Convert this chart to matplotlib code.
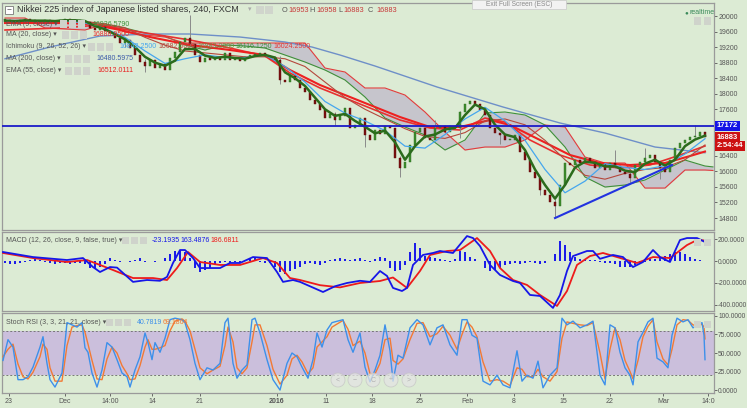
import numpy as np
import matplotlib
matplotlib.use("Agg")
import matplotlib.pyplot as plt
from matplotlib.patches import Rectangle, Ellipse
from matplotlib.transforms import blended_transform_factory

plt.rcParams["font.family"] = ["Liberation Sans", "DejaVu Sans"]

# ---- Nikkei 225 (FXCM, 240 min), sampled bars: closes ----
close = [19897, 19870, 19846, 19900, 19923, 19880, 19871, 19860, 19897, 19870,
         19846, 19890, 19923, 19900, 19871, 19880, 19846, 19691, 19640, 19717,
         19614, 19562, 19434, 19305, 19382, 19176, 18996, 18816, 18713, 18867,
         18661, 18764, 18610, 18919, 19073, 19331, 19434, 19279, 18996, 18816,
         18919, 18867, 18945, 18867, 19048, 18867, 18893, 18842, 18945, 18996,
         19022, 19048, 18970, 18945, 18867, 18353, 18301, 18456, 18353, 18147,
         18044, 17838, 17735, 17580, 17374, 17477, 17323, 17426, 17632, 17117,
         17194, 17374, 16937, 16808, 17066, 16963, 17169, 17117, 16345, 16088,
         16242, 16680, 17014, 17117, 16860, 16808, 17117, 17169, 17014, 17169,
         17117, 17529, 17735, 17812, 17735, 17580, 17452, 17117, 16988, 16937,
         16808, 16808, 16937, 16499, 16293, 15985, 15830, 15521, 15393, 15212,
         15109, 15650, 16216, 16165, 16293, 16216, 16345, 16242, 16088, 16190,
         16036, 16216, 16139, 15985, 15933, 15830, 16165, 16242, 16345, 16422,
         16242, 16088, 15985, 16293, 16602, 16731, 16808, 16885, 16911, 17014,
         16883]
wick_idx = [24, 28, 37, 55, 66, 72, 79, 86, 91, 99, 107, 110, 122, 125, 128, 131, 138]
wick_hi = [19420, 18900, 20026, 18960, 17520, 17000, 16400, 17320, 17560, 17000,
           15600, 15300, 16550, 16000, 16600, 16100, 17200]
wick_lo = [19200, 18560, 19230, 18250, 17200, 16628, 15856, 17050, 16850, 16700,
           15390, 14800, 16100, 15700, 16250, 15800, 16880]

# ---- overlays ----
ema_fast_i = list(range(0, 141, 2))
ema_fast = [19880, 19870, 19885, 19880, 19880, 19870, 19890, 19890, 19870, 19740,
            19660, 19530, 19400, 19200, 18950, 18800, 18720, 18850, 19150, 19150,
            18980, 18920, 18950, 18920, 18900, 18970, 19000, 18930, 18550, 18400,
            18200, 17900, 17600, 17430, 17480, 17300, 17150, 16980, 17050, 16750,
            16300, 16650, 16900, 16950, 17080, 17120, 17450, 17720, 17600, 17200,
            16950, 16880, 16550, 16050, 15650, 15300, 15650, 16100, 16250, 16220,
            16130, 16130, 16020, 15980, 16200, 16300, 16150, 16300, 16650, 16820,
            16920]
tenkan_i = list(range(0, 141, 4))
tenkan = [19880, 19880, 19880, 19880, 19820, 19680, 19450, 19100, 18780, 18900,
          19000, 18930, 18930, 19000, 18700, 18300, 17800, 17500, 17300, 17050,
          16650, 16600, 16950, 17350, 17650, 17300, 16800, 16050, 15450, 15750,
          16200, 16100, 16050, 16150, 16450, 16842]
kijun = [19850, 19860, 19870, 19870, 19860, 19800, 19700, 19450, 19250, 19100,
         19050, 19000, 18950, 18950, 18900, 18700, 18300, 17900, 17600, 17350,
         17100, 16900, 16850, 17000, 17300, 17350, 17200, 16800, 16300, 15900,
         15800, 15950, 16050, 16100, 16300, 16682]
cloud_i = list(range(0, 141, 4)) + [141.6]
span_a = [19846, 19897, 19846, 19871, 19846, 19768, 19691, 19562, 19485, 19254,
          19125, 19254, 19228, 19176, 18996, 18816, 18610, 18353, 17915, 17374,
          17143, 16937, 16551, 16808, 17503, 17529, 17452, 17194, 16628, 15856,
          15598, 15650, 15779, 16036, 16293, 16139, 16116]
span_b = [19949, 19949, 19691, 19665, 19640, 19794, 19588, 19511, 19459, 19305,
          19305, 19305, 19305, 19305, 19305, 19305, 18661, 18559, 18147, 18147,
          17966, 17529, 17014, 16551, 16628, 16628, 16808, 17194, 17143, 16371,
          16216, 16216, 15572, 15572, 16036, 16036, 16024]
ma200_i = [0, 9, 19, 29, 37, 47, 56, 61.4, 67, 74, 86.4, 99.6, 111, 120, 130, 140]
ma200 = [18900, 19202, 19485, 19537, 19537, 19459, 19331, 19202, 18996, 18713,
         18173, 17658, 17246, 16988, 16628, 16480]
ema55_i = [0, 11, 17, 23, 29, 37, 45, 52, 57, 63, 69, 74, 79, 85, 91, 97, 101,
           107, 113, 119, 125, 132, 137, 140]
ema55 = [19820, 19820, 19794, 19640, 19459, 19254, 19125, 18996, 18610, 18224,
         17915, 17658, 17400, 17143, 17143, 17323, 17194, 16808, 16422, 16216,
         16165, 16216, 16396, 16512]
ma20_i = [0, 11, 19, 27, 37, 45, 52, 57, 63, 69, 74, 79, 85, 91, 96, 100, 105,
          111, 117, 123, 129, 135, 140]
ma20 = [19640, 19691, 19768, 19588, 19382, 19176, 18970, 18533, 18147, 17838,
        17580, 17323, 17117, 17066, 17374, 17271, 16808, 16422, 16165, 16088,
        16165, 16422, 16654]
resistance = 17172
trend_i = [110, 133.4]
trend_v = [14800, 16165]

# ---- MACD (12, 26, close, 9) ----
macd_i = [-0.4, 5.6, 12.4, 15.6, 17.6, 19, 21, 22.4, 25.6, 28.4, 31, 32.4, 33.6,
          35, 36, 37.6, 39, 43, 45, 47, 49.6, 52.4, 54.4, 55.6, 57.6, 59, 61,
          63.6, 66, 68.4, 71, 73, 75, 76.4, 77.6, 79.4, 80.4, 81.6, 83.6, 85.6,
          87, 89.6, 92.4, 93.6, 95, 97, 99, 101.6, 103, 105, 107, 109.6, 111,
          112.4, 113.6, 116.4, 117.6, 119, 121.6, 123.6, 125.6, 127.6, 129.6,
          131, 133, 135, 136.4, 138.4, 140]
macd = [82, 36, 9, 27, -55, -100, -55, -60, -190, -173, -180, -145, -18, 100,
        100, 27, -64, -64, -18, -18, 36, 27, -100, -190, -173, -190, -230, -282,
        -230, -200, -180, -190, -91, -136, -245, -273, -245, -36, 55, 73, 91, 73,
        227, 209, 136, -36, -127, -182, -200, -309, -318, -427, -309, -91, 45,
        91, 91, 20, 55, 36, -55, -9, 100, 36, -9, 191, 209, 209, 173]
signal_i = [-0.4, 5.6, 12.4, 16.4, 19, 21.6, 25.6, 29.6, 32.4, 34.4, 36.6, 39, 43,
            47, 51.6, 54.4, 57, 59, 63, 67, 71, 75, 77.6, 80.4, 83, 85, 88.4, 91,
            94.4, 97, 99, 101.6, 104.4, 107, 110.4, 112.4, 114.4, 117, 119.6,
            122.4, 126.4, 129.6, 133, 136.4, 138.4, 140]
signal = [73, 27, -9, 9, -36, -82, -155, -155, -173, -64, 82, -9, -36, -36, 27,
          -18, -155, -173, -220, -240, -200, -182, -150, -245, -91, 55, 91, 100,
          209, 91, -64, -173, -218, -309, -409, -273, -36, 45, 73, 36, -18, 36,
          27, 145, 191, 187]
hist = [-20, -25, -30, -20, -10, 10, 15, 10, -10, -20, -25, -20, -20, -25, -20,
        -15, -30, -60, -64, -50, -30, 30, 10, -10, 0, -10, 5, 30, -10, 0, -5, 0,
        27, 60, 90, 100, 80, 30, -64, -100, -80, -60, -30, -20, -10, -15, -10,
        -20, 10, 30, 25, -10, -20, -15, -50, -100, -118, -90, -70, -50, -30,
        -20, -30, -40, -20, 10, 20, 30, 20, 10, 20, 30, 10, -10, 20, 40, 30,
        -60, -90, -80, -40, 80, 164, 120, 50, 40, 30, 20, 10, -10, 20, 90, 80,
        40, 20, 0, -60, -91, -80, -60, -40, -30, -20, -30, -20, -10, -20, -25,
        -15, 0, 60, 182, 150, 80, 40, 20, 20, 10, 5, -10, -20, -20, -25, -50,
        -55, -50, -40, -30, -10, 20, 20, 36, 50, 60, 82, 80, 60, 40, 15, 5, 0]

# ---- Stoch RSI (3, 3, 21, 21) ----
stoch_i = [-0.4, 0.6, 1.6, 2.6, 3.6, 4.6, 5.6, 7, 7.6, 8.4, 9, 10, 11.4, 12.4,
           13.4, 14.4, 15.4, 16, 16.6, 17.4, 18.4, 19.4, 20.4, 21.4, 22.4, 23.4,
           24.4, 25, 26, 27, 28, 28.6, 29.4, 30, 31, 32, 33, 34, 35.4, 36, 37,
           38, 39, 40.4, 41.6, 43, 44, 44.6, 45.6, 46.4, 47.4, 48.4, 49.4, 50,
           51, 52.4, 53.6, 55, 56.4, 57.4, 58.4, 59.4, 60.6, 61.6, 62.4, 63.4,
           64.4, 65.4, 67.6, 68.6, 69.6, 71, 72, 73, 74, 75, 76, 77, 77.6, 78.6,
           79.6, 81, 82.4, 83.6, 85, 86.4, 87.6, 89, 90.4, 91.4, 92.4, 93.4,
           94.4, 95.6, 97, 98.4, 99.6, 101, 102.4, 103.4, 104.4, 105.6, 106.6,
           107.6, 109, 110.4, 111.4, 112.4, 113.6, 115, 116.4, 117.6, 119, 120,
           121, 122, 123, 124, 125, 125.6, 126.6, 127.6, 128.6, 129.6, 130.4,
           131.6, 132.6, 133.4, 134.4, 135.6, 136.6, 137.6, 138.6, 139.4, 139.8,
           140]
stoch_k = [40, 68, 58, 14, 14, 18, 31, 58, 72, 36, 14, 4, 23, 91, 88, 85, 91, 57,
           51, 23, 4, 27, 64, 58, 41, 23, 18, 4, 27, 45, 77, 64, 41, 64, 51, 70,
           95, 97, 95, 91, 68, 36, 14, 30, 27, 36, 91, 97, 36, 16, 27, 34, 95, 97,
           77, 41, 14, 0, 36, 50, 45, 31, 16, 41, 77, 58, 81, 91, 95, 68, 51, 77,
           31, 11, 27, 47, 88, 53, 12, 47, 43, 84, 95, 88, 61, 84, 88, 61, 47, 95,
           95, 74, 70, 12, 7, 20, 7, 3, 53, 12, 20, 16, 39, 3, 20, 30, 97, 88, 93,
           84, 88, 93, 20, 7, 88, 84, 51, 30, 20, 7, 65, 78, 92, 97, 43, 38, 30,
           74, 97, 92, 95, 84, 88, 91, 74, 41]
stoch_d = [45, 55, 62, 35, 18, 15, 24, 45, 62, 55, 30, 12, 12, 60, 85, 87, 88, 78,
           62, 40, 15, 14, 42, 58, 50, 33, 22, 14, 15, 33, 58, 68, 55, 55, 57, 60,
           80, 93, 96, 93, 80, 55, 30, 22, 27, 32, 60, 85, 65, 30, 22, 30, 65, 88,
           88, 60, 28, 8, 20, 42, 47, 38, 22, 30, 58, 65, 72, 85, 94, 82, 60, 66,
           50, 22, 22, 36, 68, 70, 40, 35, 42, 68, 90, 91, 72, 76, 86, 74, 55, 75,
           92, 85, 72, 38, 12, 14, 12, 6, 30, 28, 18, 18, 28, 18, 12, 25, 70, 92,
           90, 88, 87, 91, 50, 15, 55, 84, 68, 40, 25, 15, 40, 72, 86, 95, 65, 42,
           34, 55, 88, 95, 94, 88, 86, 89, 85, 69]

xtick_pos = [0.8, 12, 21, 29.4, 39, 54.4, 64.2, 73.4, 83, 92.4, 101.8, 111.6, 121, 131.6, 140.6]
xtick_lab = ["23", "Dec", "14:00", "14", "21", "2016", "11", "18", "25", "Feb", "8",
             "15", "22", "Mar", "14:0"]

BG = "#dcebd4"
W, H = 747, 408


def fx(x):
    return x / W


def fy(y):
    return 1 - y / H


fig = plt.figure(figsize=(7.47, 4.08), dpi=100)
fig.patch.set_facecolor(BG)

ax = fig.add_axes([fx(2), fy(230), fx(712), 227 / H])
ax2 = fig.add_axes([fx(2), fy(311), fx(712), 79 / H], sharex=ax)
ax3 = fig.add_axes([fx(2), fy(393), fx(712), 80 / H], sharex=ax)

for a in (ax, ax2, ax3):
    a.set_facecolor(BG)
    for s in a.spines.values():
        s.set_color("#9a9a9a")
        s.set_linewidth(0.9)
    a.yaxis.tick_right()
    a.tick_params(axis="y", direction="out", length=2, pad=1.5, labelsize=5,
                  colors="#555555", width=0.6)
    a.tick_params(axis="x", length=0, labelbottom=False)
ax.set_xlim(-0.6, 141.8)

# ---- main panel ----
c = np.array(close, dtype=float)
o = np.r_[c[0], c[:-1]]
idx = np.arange(len(c))
body = np.maximum(np.abs(c - o), 18)
up = c >= o
ax.vlines(wick_idx, wick_lo, wick_hi, color="#8a8a8a", lw=0.7, zorder=3)
ax.bar(idx[up], body[up], bottom=np.minimum(o, c)[up], width=0.5,
       color="#3e8e2e", edgecolor="#2c6a1f", lw=0.3, zorder=4)
ax.bar(idx[~up], body[~up], bottom=np.minimum(o, c)[~up], width=0.5,
       color="#7c1010", edgecolor="#5a0808", lw=0.3, zorder=4)

ax.fill_between(cloud_i, span_a, span_b, color="#c6c5cc", lw=0, zorder=1)
ax.plot(cloud_i, span_a, color="#3f8f3a", lw=0.8, zorder=2)
ax.plot(cloud_i, span_b, color="#e23c3c", lw=0.8, zorder=2)
ax.plot(ma200_i, ma200, color="#6e8fc8", lw=1.0, zorder=2)
ax.plot(ma20_i, ma20, color="#e83030", lw=1.2, zorder=2)
ax.plot(ema55_i, ema55, color="#ee2020", lw=1.5, zorder=2)
ax.plot(tenkan_i, kijun, color="#b5473c", lw=0.8, zorder=2)
ax.plot(tenkan_i, tenkan, color="#45a6ee", lw=0.9, zorder=5)
ax.plot(ema_fast_i, ema_fast, color="#2b6b1c", lw=1.8, zorder=5)
ax.axhline(resistance, color="#1b1bc8", lw=1.3, zorder=6)
ax.plot(trend_i, trend_v, color="#2233e0", lw=1.5, zorder=6)

ax.set_ylim(14492, 20335)
pt = [14800, 15200, 15600, 16000, 16400, 17600, 18000, 18400, 18800, 19200, 19600, 20000]
ax.set_yticks(pt)
ax.set_yticklabels([str(p) for p in pt])

tr = blended_transform_factory(ax.transAxes, ax.transData)
for val, txt, col in [(resistance, "17172", "#1414e6"), (close[-1], "16883", "#cc1111"),
                      (16660, "2:54:44", "#cc1111")]:
    ax.text(1.004, val, txt, transform=tr, fontsize=5.5, color="white", va="center",
            ha="left", fontweight="bold",
            bbox=dict(boxstyle="square,pad=0.2", fc=col, ec="none"), clip_on=False)

# ---- MACD panel ----
ax2.bar(idx, hist, width=0.55, color="#1c1ce8", zorder=2)
ax2.plot(signal_i, signal, color="#ee1b1b", lw=1.3, zorder=3)
ax2.plot(macd_i, macd, color="#1616e8", lw=1.3, zorder=4)
ax2.set_ylim(-455, 264)
ax2.set_yticks([200, 0, -200, -400])
ax2.set_yticklabels(["200.0000", "0.0000", "-200.0000", "-400.0000"])
ax2.tick_params(axis="y", labelsize=4.7, pad=1)

# ---- Stoch RSI panel ----
ax3.axhspan(20, 80, color="#cbbfdc", lw=0, zorder=1)
for lv in (20, 80):
    ax3.axhline(lv, color="#777777", lw=0.7, ls=(0, (2, 2)), zorder=2)
ax3.plot(stoch_i, stoch_d, color="#f27a35", lw=1.0, zorder=3)
ax3.plot(stoch_i, stoch_k, color="#3d90ea", lw=1.0, zorder=4)
ax3.set_ylim(-4, 104)
ax3.set_yticks([100, 75, 50, 25, 0])
ax3.set_yticklabels(["100.0000", "75.0000", "50.0000", "25.0000", "0.0000"])
ax3.tick_params(axis="y", labelsize=4.8, pad=1)
ax3.set_xticks(xtick_pos)
ax3.set_xticklabels(xtick_lab)
ax3.tick_params(axis="x", labelbottom=True, length=2, pad=1.5, labelsize=5,
                colors="#555555", width=0.6)
for lab in ax3.get_xticklabels():
    if lab.get_text() == "2016":
        lab.set_fontweight("bold")

# ---- header / legend texts ----
fig.add_artist(Rectangle((fx(5), fy(14)), fx(8), 8 / H, fc="white", ec="#777", lw=0.6))
fig.text(fx(6.5), fy(10), "\u2212", fontsize=6, color="#555", va="center")
fig.text(fx(17), fy(10), "Nikkei 225 index of Japanese listed shares, 240, FXCM",
         fontsize=6.5, color="#333333", va="center")
fig.text(fx(248), fy(10), "\u25be", fontsize=5, color="#aaa", va="center")
for xb in (256, 265):
    fig.add_artist(Rectangle((fx(xb), fy(14)), fx(8), 8 / H, fc="#d0d5cc", ec="none"))
ohlc = [(282, "O", "#555555"), (288, "16953", "#c83a3a"), (309, "H", "#555555"),
        (316, "16958", "#c83a3a"), (338, "L", "#555555"), (343, "16883", "#c83a3a"),
        (368, "C", "#555555"), (376, "16883", "#c83a3a")]
for xp, txt, col in ohlc:
    fig.text(fx(xp), fy(10), txt, fontsize=5.3, color=col, va="center")

rows = [(24, "EMA (9, close)", 60, [(92, "16936.5790", "#3f8f3a")]),
        (35, "MA (20, close)", 62, [(92, "16888.9500", "#e83030")]),
        (47, "Ichimoku (9, 26, 52, 26)", 88,
         [(119, "16842.2500", "#45a6ee"), (158, "16682.5000", "#b5473c"),
          (197, "16883.0000", "#7a8a3a"), (235, "16116.1250", "#3f8f3a"),
          (273, "16024.2500", "#e23c3c")]),
        (59, "MA (200, close)", 65, [(96, "16480.5975", "#3b5aa8")]),
        (71, "EMA (55, close)", 65, [(97, "16512.0111", "#e82020")])]
for yr, name, xbox, vals in rows:
    fig.text(fx(6), fy(yr), name + " \u25be", fontsize=5, color="#555555", va="center")
    for k in range(3):
        fig.add_artist(Rectangle((fx(xbox + 9 * k), fy(yr + 3.5)), fx(7), 7 / H,
                                 fc="#cfd3cb", ec="none"))
    for xv, txt, col in vals:
        fig.text(fx(xv), fy(yr), txt, fontsize=5, color=col, va="center")

fig.text(fx(6), fy(240), "MACD (12, 26, close, 9, false, true) \u25be", fontsize=5,
         color="#555555", va="center")
for k in range(3):
    fig.add_artist(Rectangle((fx(122 + 9 * k), fy(243.5)), fx(7), 7 / H, fc="#cfd3cb", ec="none"))
for xv, txt, col in [(152, "-23.1935", "#1616e8"), (180, "163.4876", "#1616e8"),
                     (210, "186.6811", "#ee1b1b")]:
    fig.text(fx(xv), fy(240), txt, fontsize=5, color=col, va="center")

fig.text(fx(6), fy(322), "Stoch RSI (3, 3, 21, 21, close) \u25be", fontsize=5,
         color="#555555", va="center")
for k in range(3):
    fig.add_artist(Rectangle((fx(106 + 9 * k), fy(325.5)), fx(7), 7 / H, fc="#cfd3cb", ec="none"))
for xv, txt, col in [(137, "40.7819", "#3d90ea"), (163, "69.1864", "#f27a35")]:
    fig.text(fx(xv), fy(322), txt, fontsize=5, color=col, va="center")

# top-right widgets
fig.add_artist(Rectangle((fx(472), fy(9)), fx(94), 9 / H, fc="#f2f2f2", ec="#c8c8c8", lw=0.5))
fig.text(fx(519), fy(4.5), "Exit Full Screen (ESC)", fontsize=4.8, color="#8a8a8a",
         ha="center", va="center")
fig.text(fx(684), fy(13), "\u25cf", fontsize=4.5, color="#3a8a5a", va="center")
fig.text(fx(690), fy(13), "realtime", fontsize=5, color="#3a8a5a", va="center")
for yb in (21, 242, 324):
    for xb in (694, 704):
        fig.add_artist(Rectangle((fx(xb), fy(yb + 3.5)), fx(7), 7 / H, fc="#cfd3cb", ec="none"))

# zoom buttons
for xb, g in zip((338, 355, 373, 391, 409), ("<", "\u2212", "C", "+", ">")):
    fig.add_artist(Ellipse((fx(xb), fy(380)), fx(14), 14 / H, fc="#e4e4e4", ec="#c4c4c4",
                           lw=0.6, alpha=0.75))
    fig.text(fx(xb), fy(380), g, fontsize=5, color="#b0b0b0", ha="center", va="center")

fig.savefig("out.png", dpi=100, facecolor=BG)
